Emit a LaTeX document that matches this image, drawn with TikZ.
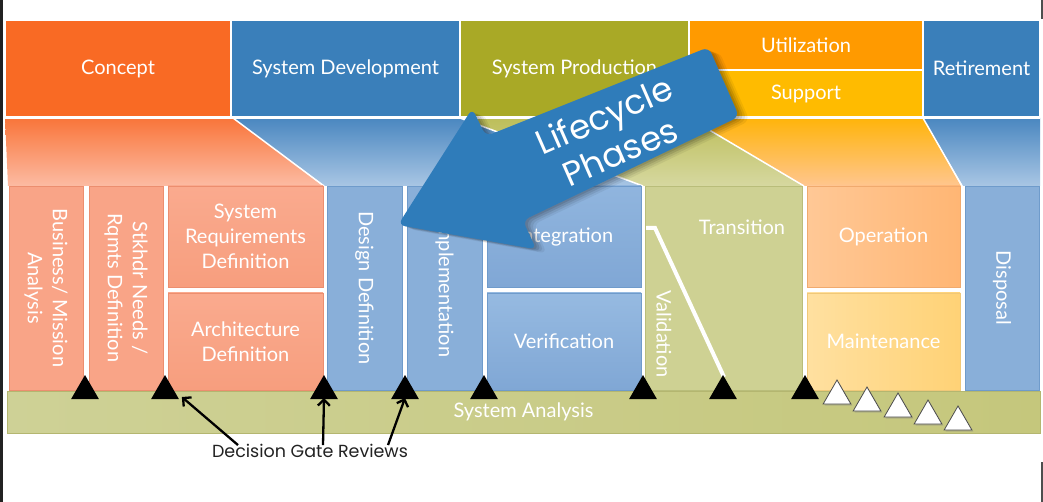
\documentclass[tikz,border=0pt]{standalone}
\usepackage{fontspec}
\setmainfont{Lato}
\newfontfamily\popfont{Poppins}
\usetikzlibrary{shapes.geometric,arrows.meta,shadows}
\newcommand\lblfont{\fontsize{20}{25}\selectfont}
\definecolor{cConcept}{HTML}{F96A24}
\definecolor{cDev}{HTML}{3A7FBA}
\definecolor{cProd}{HTML}{A9A926}
\definecolor{cUtil}{HTML}{FF9A00}
\definecolor{cSupp}{HTML}{FFBB00}
\definecolor{cArrow}{HTML}{2F7CBA}
\definecolor{cSalmon}{HTML}{F9A487}
\definecolor{cSalmonD}{HTML}{EC8E6F}
\definecolor{cBlueCol}{HTML}{89AFD9}
\definecolor{cBlueColD}{HTML}{6F9BCB}
\definecolor{cOliveCol}{HTML}{CED193}
\definecolor{cOliveColD}{HTML}{B9BD7A}
\definecolor{cEdge}{HTML}{222222}
\begin{document}
\begin{tikzpicture}[x=1pt,y=-1pt,
  lbl/.style={text=white, font=\lblfont, align=center, inner sep=0pt},
  topbox/.style={rectangle, anchor=north west, inner sep=0pt, outer sep=0pt, draw=white, line width=1.2pt, text=white, font=\lblfont, align=center},
  colbox/.style={rectangle, inner sep=0pt, outer sep=0pt, text=white, font=\lblfont, align=center, line width=0.6pt},
  funnel/.style={draw=white, line width=1.5pt},
  blackgate/.style={regular polygon, regular polygon sides=3, minimum size=32pt, inner sep=0pt, outer sep=0pt, fill=black},
  whitegate/.style={regular polygon, regular polygon sides=3, minimum size=32pt, inner sep=0pt, outer sep=0pt, fill=white, draw=black!70, line width=0.8pt, drop shadow={shadow xshift=1.5pt, shadow yshift=-1.5pt, opacity=0.35}},
  gatearrow/.style={line width=2.3pt, -{Straight Barb[length=6pt,width=12pt]}, draw=black},
  sepline/.style={draw=white, line width=4pt},
]
\useasboundingbox (0,0) rectangle (1043,502);
\fill[white] (0,0) rectangle (1043,502);
\fill[cEdge] (0,0) rectangle (3,502);
\fill[cEdge!80] (1041,0) rectangle (1043,19);
\fill[cEdge!80] (1041,462) rectangle (1043,502);

% phase bands
\node[topbox, fill=cConcept, minimum width=226pt, minimum height=97pt] (concept) at (5,20) {\raisebox{-2pt}{Concept}};
\node[topbox, fill=cDev, minimum width=229pt, minimum height=97pt] (sysdev) at (231,20) {\raisebox{-2pt}{System Development}};
\node[topbox, fill=cProd, minimum width=229pt, minimum height=97pt] (sysprod) at (460,20) {\raisebox{-2pt}{System Production}};
\node[topbox, fill=cUtil, minimum width=234pt, minimum height=50pt] (util) at (689,20) {\raisebox{-2pt}{Utilization}};
\node[topbox, fill=cSupp, minimum width=234pt, minimum height=47pt] (supp) at (689,70) {\raisebox{-2pt}{Support}};
\node[topbox, fill=cDev, minimum width=117pt, minimum height=97pt] (retire) at (923,20) {\raisebox{-2pt}{Retirement}};

% funnels
\shade[top color={rgb,255:red,249;green,117;blue,58}, bottom color={rgb,255:red,252;green,187;blue,163}] (5,118) -- (233,118) -- (323,186) -- (8,186) -- cycle;
\shade[top color={rgb,255:red,74;green,135;blue,192}, bottom color={rgb,255:red,169;green,198;blue,228}] (233,118) -- (460,118) -- (643,186) -- (325,186) -- cycle;
\shade[top color={rgb,255:red,189;green,190;blue,90}, bottom color={rgb,255:red,214;green,216;blue,160}] (460,118) -- (689,118) -- (803,186) -- (643,186) -- cycle;
\shade[top color={rgb,255:red,255;green,180;blue,10}, bottom color={rgb,255:red,255;green,198;blue,143}] (689,118) -- (923,118) -- (961,186) -- (803,186) -- cycle;
\shade[top color={rgb,255:red,74;green,135;blue,192}, bottom color={rgb,255:red,169;green,198;blue,228}] (923,118) -- (1040,118) -- (1040,186) -- (963,186) -- cycle;
\draw[funnel] (233,118) -- (324,186);
\draw[funnel] (460,118) -- (643,186);
\draw[funnel] (689,118) -- (804,186);
\draw[funnel] (923,118) -- (962,186);
\draw[funnel] (5,118) -- (1040,118);

% columns
\node[colbox, fill=cSalmon, draw=cSalmonD, minimum width=204pt, minimum height=74pt, rotate=-90] (bma) at (46,288) {Business/ Mission\\Analysis};
\node[colbox, fill=cSalmon, draw=cSalmonD, minimum width=204pt, minimum height=74pt, rotate=-90] (stk) at (126,288) {Stkhdr Needs /\\Rqmts Definition};
\node[colbox, anchor=north west, top color={rgb,255:red,250;green,170;blue,142}, bottom color={rgb,255:red,247;green,158;blue,126}, draw=cSalmonD, minimum width=155pt, minimum height=101pt] (sysreq) at (168,186) {System\\Requirements\\Definition};
\node[colbox, anchor=north west, top color={rgb,255:red,250;green,170;blue,142}, bottom color={rgb,255:red,247;green,158;blue,126}, draw=cSalmonD, minimum width=155pt, minimum height=97pt] (arch) at (168,293) {Architecture\\Definition};
\node[colbox, fill=cBlueCol, draw=cBlueColD, minimum width=204pt, minimum height=75pt, rotate=-90] (design) at (364.5,288) {Design Definition};
\node[colbox, fill=cBlueCol, draw=cBlueColD, minimum width=204pt, minimum height=75pt, rotate=-90] (impl) at (444.5,288) {Implementation};
\node[colbox, anchor=north west, top color={rgb,255:red,144;green,181;blue,222}, bottom color={rgb,255:red,128;green,167;blue,213}, draw=cBlueColD, minimum width=154pt, minimum height=101pt] (integ) at (487,186) {\hspace*{2pt}\raisebox{-2pt}{Integration}};
\node[colbox, anchor=north west, top color={rgb,255:red,150;green,186;blue,225}, bottom color={rgb,255:red,128;green,167;blue,213}, draw=cBlueColD, minimum width=154pt, minimum height=97pt] (verif) at (487,293) {\raisebox{-2pt}{Verification}};
\node[colbox, anchor=north west, fill=cOliveCol, draw=cOliveColD, minimum width=157pt, minimum height=204pt] (valtr) at (645,186) {};
\node[lbl] (transition) at (742,227) {Transition};
\node[lbl, rotate=-90] (validation) at (664,334) {Validation};
\draw[sepline] (646,228) -- (655,228) -- (724,377);
\node[colbox, anchor=north west, left color={rgb,255:red,255;green,200;blue,150}, right color={rgb,255:red,255;green,182;blue,116}, draw={rgb,255:red,240;green,170;blue,110}, minimum width=153pt, minimum height=101pt] (oper) at (807,186) {\raisebox{-2pt}{Operation}};
\node[colbox, anchor=north west, left color={rgb,255:red,255;green,224;blue,160}, right color={rgb,255:red,255;green,210;blue,118}, draw={rgb,255:red,240;green,200;blue,120}, minimum width=153pt, minimum height=97pt] (maint) at (807,293) {\raisebox{-2pt}{Maintenance}};
\node[colbox, fill=cBlueCol, draw=cBlueColD, minimum width=204pt, minimum height=74pt, rotate=-90] (disp) at (1002,288) {Disposal};

% system analysis bar
\node[colbox, anchor=north west, left color={rgb,255:red,206;green,209;blue,150}, right color={rgb,255:red,197;green,199;blue,124}, draw={rgb,255:red,180;green,182;blue,112}, minimum width=1033pt, minimum height=42pt] (sa) at (7,391) {\raisebox{-2pt}{System Analysis}};

% decision gates
\node[blackgate] (g1) at (85,391) {};
\node[blackgate] (g2) at (165,391) {};
\node[blackgate] (g3) at (324,391) {};
\node[blackgate] (g4) at (405,391) {};
\node[blackgate] (g5) at (484,391) {};
\node[blackgate] (g6) at (643,391) {};
\node[blackgate] (g7) at (723,391) {};
\node[blackgate] (g8) at (805,391) {};
\node[whitegate] (w1) at (837,396) {};
\node[whitegate] (w2) at (867,403) {};
\node[whitegate] (w3) at (898,409) {};
\node[whitegate] (w4) at (928,416) {};
\node[whitegate] (w5) at (958,422) {};

% lifecycle phases arrow
\begin{scope}[shift={(398,225)}, rotate=23.7]
  \foreach \d/\o in {2/0.10,4/0.10,6/0.08,8/0.06}{
    \fill[black, opacity=\o, rounded corners=7pt, xshift=\d pt, yshift=-\d pt] (0,0) -- (115,-77) -- (116,-46) -- (356,-38) -- (356,38) -- (116,46) -- (117,78) -- cycle;
  }
  \fill[cArrow, rounded corners=7pt] (0,0) -- (115,-77) -- (116,-46) -- (356,-38) -- (356,38) -- (116,46) -- (117,78) -- cycle;
  \node[text=white, font=\popfont\fontsize{34}{40}\selectfont, align=center, rotate=23.7] (lcp) at (233,2) {Lifecycle\\Phases};
\end{scope}

% decision gate reviews label
\node[font=\popfont\fontsize{17.5}{21}\selectfont, text={rgb,255:red,34;green,34;blue,34}, inner sep=1pt] (dgr) at (310,451) {Decision Gate Reviews};
\draw[gatearrow] ([xshift=-72pt, yshift=-2pt]dgr.north) -- ([xshift=3pt,yshift=2pt]g2.corner 3);
\draw[gatearrow] ([xshift=13pt, yshift=-2pt]dgr.north) -- ([yshift=1pt]g3.south);
\draw[gatearrow] ([xshift=78pt, yshift=-2pt]dgr.north) -- ([yshift=1pt]g4.south);
\end{tikzpicture}
\end{document}
